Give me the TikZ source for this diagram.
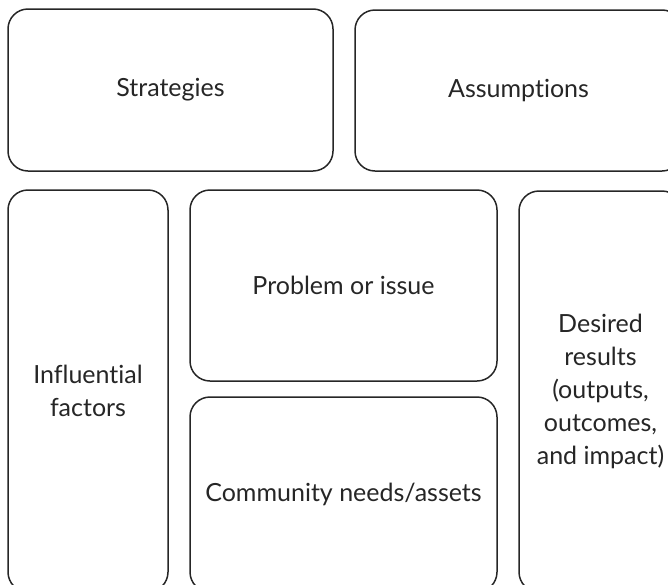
\documentclass[tikz,border=0pt]{standalone}
\usepackage{fontspec}
\setmainfont{Lato}[Ligatures=NoCommon]
\definecolor{ink}{HTML}{262626}
\begin{document}
\begin{tikzpicture}[x=1pt,y=-1pt,
  panel/.style={draw=ink, line width=1.5pt, rounded corners=20pt,
    rectangle, inner sep=0pt, text=ink, align=center,
    font=\fontsize{25}{33}\selectfont}]
\useasboundingbox (0,0) rectangle (668,584);
\clip (0,0) rectangle (668,584);
% top row
\node[panel, minimum width=325pt, minimum height=162pt] (strat) at (170.5,90) {Strategies};
\node[panel, minimum width=327pt, minimum height=161pt] (assum) at (518.5,90.5) {Assumptions};
% lower row
\node[panel, minimum width=160pt, minimum height=402pt] (infl) at (88,391) {Influential\\factors};
\node[panel, minimum width=307pt, minimum height=191pt] (prob) at (343.5,285.5) {Problem or issue};
\node[panel, minimum width=307pt, minimum height=195pt] (comm) at (343.5,494.5) {Community needs/assets};
\node[panel, minimum width=163pt, minimum height=401pt] (desir) at (600.5,391.5) {Desired\\results\\(outputs,\\outcomes,\\and impact)};
\end{tikzpicture}
\end{document}
